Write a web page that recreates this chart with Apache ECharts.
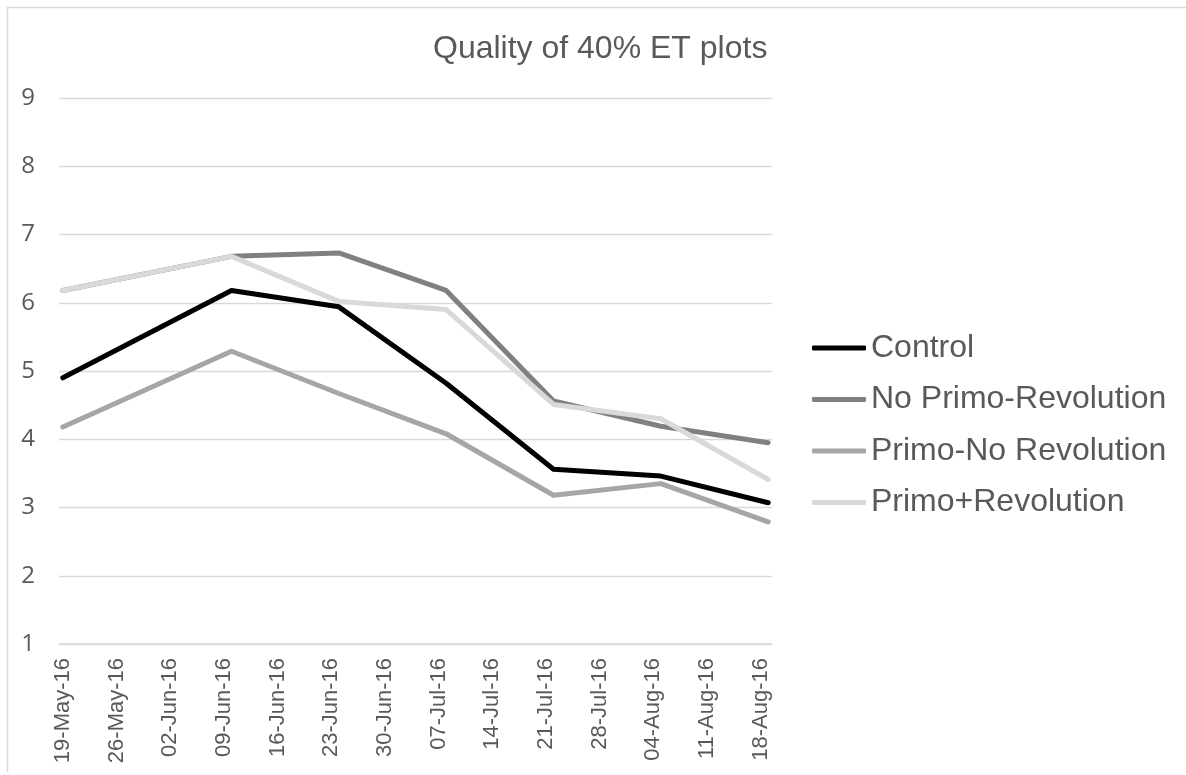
<!DOCTYPE html>
<html>
<head>
<meta charset="utf-8">
<title>Quality of 40% ET plots</title>
<script src="https://cdn.jsdelivr.net/npm/echarts@6/dist/echarts.min.js"></script>
<style>
  html, body { margin: 0; padding: 0; background: #fff; }
  #chart { width: 1186px; height: 775px; }
</style>
</head>
<body>
<div id="chart"></div>
<script>
// date axis: one slot per day, like the Excel date axis
const axisStart = '2016-05-19';
const axisDays = 93;
const monthNames = ['Jan', 'Feb', 'Mar', 'Apr', 'May', 'Jun', 'Jul', 'Aug', 'Sep', 'Oct', 'Nov', 'Dec'];

// sampling dates and scores
const sampleDates = ['19-May-16', '10-Jun-16', '24-Jun-16', '08-Jul-16', '22-Jul-16', '05-Aug-16', '19-Aug-16'];
const control = [4.90, 6.18, 5.94, 4.82, 3.56, 3.46, 3.07];
const noPrimoRevolution = [6.18, 6.68, 6.73, 6.18, 4.56, 4.19, 3.95];
const primoNoRevolution = [4.18, 5.29, 4.67, 4.08, 3.18, 3.35, 2.79];
const primoRevolution = [6.18, 6.68, 6.02, 5.90, 4.51, 4.30, 3.41];

const seriesNames = ['Control', 'No Primo-Revolution', 'Primo-No Revolution', 'Primo+Revolution'];
const seriesColors = ['#000000', '#808080', '#a6a6a6', '#d9d9d9'];

function fmtDate(d) {
  let dd = String(d.getUTCDate()).padStart(2, '0');
  let yy = String(d.getUTCFullYear()).slice(2);
  return dd + '-' + monthNames[d.getUTCMonth()] + '-' + yy;
}

let categories = [];
let t0 = Date.parse(axisStart + 'T00:00:00Z');
for (let i = 0; i < axisDays; i++) {
  categories.push(fmtDate(new Date(t0 + i * 86400000)));
}

function pairs(values) {
  return sampleDates.map((d, i) => [d, values[i]]);
}

let myChart = echarts.init(document.getElementById('chart'));
let seriesValues = [control, noPrimoRevolution, primoNoRevolution, primoRevolution];

let option = {
  animation: false,
  backgroundColor: '#ffffff',
  title: {
    text: 'Quality of 40% ET plots',
    left: 428,
    top: 28,
    textStyle: {
      color: '#595959',
      fontFamily: 'Liberation Sans',
      fontWeight: 'normal',
      fontSize: 32
    }
  },
  legend: {
    orient: 'vertical',
    left: 807,
    top: 327,
    icon: 'roundRect',
    itemWidth: 54,
    itemHeight: 5,
    itemGap: 19.5,
    textStyle: {
      color: '#595959',
      fontFamily: 'Liberation Sans',
      fontSize: 32
    },
    data: seriesNames
  },
  grid: {
    left: 59,
    right: 414,
    top: 98,
    bottom: 131
  },
  xAxis: {
    type: 'category',
    data: categories,
    boundaryGap: true,
    axisLine: { lineStyle: { color: '#d9d9d9', width: 1.5 } },
    axisTick: { interval: 6, length: 5, lineStyle: { color: '#d9d9d9', width: 1.5 } },
    axisLabel: {
      interval: 6,
      rotate: 90,
      margin: 14,
      color: '#595959',
      fontFamily: 'Liberation Sans',
      fontSize: 22
    },
    splitLine: { show: false }
  },
  yAxis: {
    type: 'value',
    min: 1,
    max: 9,
    interval: 1,
    axisLine: { show: false },
    axisTick: { show: false },
    axisLabel: {
      margin: 24,
      color: '#595959',
      fontFamily: 'Open Sans',
      fontSize: 24
    },
    splitLine: { lineStyle: { color: '#d9d9d9', width: 1.3 } }
  },
  graphic: [
    { type: 'line', shape: { x1: 7, y1: 7.5, x2: 1186, y2: 7.5 }, style: { stroke: '#d9d9d9', lineWidth: 1.5 } },
    { type: 'line', shape: { x1: 7.5, y1: 7, x2: 7.5, y2: 772 }, style: { stroke: '#d9d9d9', lineWidth: 1.5 } }
  ],
  series: seriesNames.map((name, i) => ({
    name: name,
    type: 'line',
    data: pairs(seriesValues[i]),
    symbol: 'none',
    color: seriesColors[i],
    lineStyle: { width: 5, color: seriesColors[i], cap: 'round', join: 'round' }
  }))
};

myChart.setOption(option);
</script>
</body>
</html>
